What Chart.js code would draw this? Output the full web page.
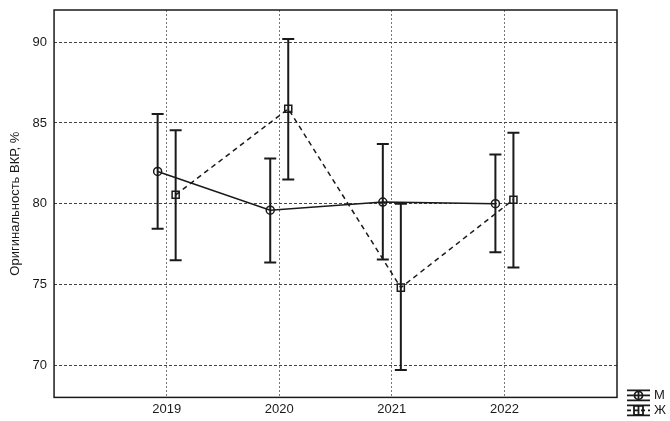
<!DOCTYPE html>
<html>
<head>
<meta charset="utf-8">
<script src="https://cdn.jsdelivr.net/npm/chart.js@4.4.1/dist/chart.umd.min.js"></script>
<style>
    html, body { margin: 0; padding: 0; background: #fff; }
    #wrap { width: 670px; height: 421px; }
</style>
</head>
<body>
<div id="wrap"><canvas id="chart"></canvas></div>
<script>
// -------------------------------------------------
// Data
// -------------------------------------------------
const years = [2019, 2020, 2021, 2022];

const maleMean = [82.0, 79.6, 80.1, 80.0];
const maleLow  = [78.45, 76.35, 76.55, 77.0];
const maleHigh = [85.55, 82.8, 83.7, 83.05];

const femaleMean = [80.55, 85.88, 74.8, 80.25];
const femaleLow  = [76.5, 81.5, 69.7, 76.05];
const femaleHigh = [84.55, 90.2, 80.0, 84.4];

const yTicks = [70, 75, 80, 85, 90];
const seriesLabels = ['М', 'Ж'];

// small horizontal shift so the two groups don't overlap
const MALE_SHIFT = -0.08;
const FEMALE_SHIFT = 0.08;

const INK = '#1a1a1a';
const FONT = '"Liberation Sans", Arial, sans-serif';

// -------------------------------------------------
// Error bars: drawn under the markers, from low/high arrays
// -------------------------------------------------
const errorBars = {
    id: 'errorBars',
    beforeDatasetsDraw(chart) {
        const { ctx, scales: { x, y } } = chart;
        ctx.save();
        ctx.strokeStyle = INK;
        ctx.lineWidth = 2;
        chart.data.datasets.forEach(ds => {
            ds.low.forEach((lo, i) => {
                const px = x.getPixelForValue(ds.data[i].x);
                const pLo = y.getPixelForValue(lo);
                const pHi = y.getPixelForValue(ds.high[i]);
                ctx.beginPath();
                ctx.moveTo(px, pLo); ctx.lineTo(px, pHi);
                ctx.moveTo(px - 6, pLo); ctx.lineTo(px + 6, pLo);
                ctx.moveTo(px - 6, pHi); ctx.lineTo(px + 6, pHi);
                ctx.stroke();
            });
        });
        ctx.restore();
    }
};

// -------------------------------------------------
// Box around the plot + legend in the bottom right corner
// -------------------------------------------------
const frameAndLegend = {
    id: 'frameAndLegend',
    afterDraw(chart) {
        const { ctx, chartArea: a } = chart;
        ctx.save();
        ctx.strokeStyle = INK;
        ctx.lineWidth = 1.5;
        ctx.strokeRect(a.left, a.top, a.right - a.left, a.bottom - a.top);

        const x0 = a.right + 10, x1 = a.right + 33, cx = (x0 + x1) / 2;
        const rows = [a.bottom - 2, a.bottom + 13];
        ctx.lineWidth = 1.8;
        rows.forEach((cy, i) => {
            ctx.setLineDash([]);
            ctx.beginPath();
            ctx.moveTo(x0, cy - 5); ctx.lineTo(x1, cy - 5);
            ctx.moveTo(x0, cy + 5); ctx.lineTo(x1, cy + 5);
            ctx.moveTo(cx, cy - 5); ctx.lineTo(cx, cy + 5);
            ctx.stroke();
            ctx.setLineDash(i === 0 ? [] : [4, 3]);
            ctx.beginPath();
            ctx.moveTo(x0, cy); ctx.lineTo(x1, cy);
            ctx.stroke();
            ctx.setLineDash([]);
            ctx.beginPath();
            if (i === 0) ctx.arc(cx, cy, 4, 0, Math.PI * 2);
            else ctx.rect(cx - 4.5, cy - 4.5, 9, 9);
            ctx.stroke();
            ctx.fillStyle = INK;
            ctx.font = '13px ' + FONT;
            ctx.textBaseline = 'middle';
            ctx.fillText(seriesLabels[i], x1 + 4, cy);
        });
        ctx.restore();
    }
};

const ctx = document.getElementById('chart').getContext('2d');
new Chart(ctx, {
    type: 'line',
    data: {
        datasets: [{
            label: seriesLabels[0],
            data: years.map((yr, i) => ({ x: yr + MALE_SHIFT, y: maleMean[i] })),
            low: maleLow,
            high: maleHigh,
            borderColor: INK,
            borderWidth: 1.5,
            pointStyle: 'circle',
            pointRadius: 4,
            pointBorderWidth: 1.5,
            pointBorderColor: INK,
            pointBackgroundColor: 'rgba(0,0,0,0)',
            tension: 0
        }, {
            label: seriesLabels[1],
            data: years.map((yr, i) => ({ x: yr + FEMALE_SHIFT, y: femaleMean[i] })),
            low: femaleLow,
            high: femaleHigh,
            borderColor: INK,
            borderWidth: 1.5,
            borderDash: [5, 4],
            pointStyle: 'rect',
            pointRadius: 5,
            pointBorderWidth: 1.5,
            pointBorderColor: INK,
            pointBackgroundColor: 'rgba(0,0,0,0)',
            tension: 0
        }]
    },
    options: {
        responsive: true,
        maintainAspectRatio: false,
        animation: false,
        layout: { padding: { top: 10, right: 53, bottom: 0, left: 2 } },
        plugins: {
            legend: { display: false },
            tooltip: { enabled: false }
        },
        scales: {
            x: {
                type: 'linear',
                min: 2018,
                max: 2023,
                afterBuildTicks: axis => { axis.ticks = years.map(v => ({ value: v })); },
                ticks: {
                    color: INK,
                    font: { family: FONT, size: 13 },
                    padding: 4,
                    callback: v => String(v)
                },
                grid: { color: '#777', lineWidth: 1, drawTicks: false },
                border: { display: false, dash: [2, 2] }
            },
            y: {
                min: 68,
                max: 92,
                afterBuildTicks: axis => { axis.ticks = yTicks.map(v => ({ value: v })); },
                afterFit: axis => { axis.paddingTop = 0; axis.paddingBottom = 0; },
                ticks: {
                    color: INK,
                    font: { family: FONT, size: 13 },
                    padding: 7
                },
                grid: { color: '#444', lineWidth: 1, drawTicks: false },
                border: { display: false, dash: [3, 2] },
                title: {
                    display: true,
                    text: 'Оригинальность ВКР, %',
                    color: INK,
                    font: { family: FONT, size: 13 },
                    padding: { top: 6, bottom: 2 }
                }
            }
        }
    },
    plugins: [errorBars, frameAndLegend]
});
</script>
</body>
</html>
